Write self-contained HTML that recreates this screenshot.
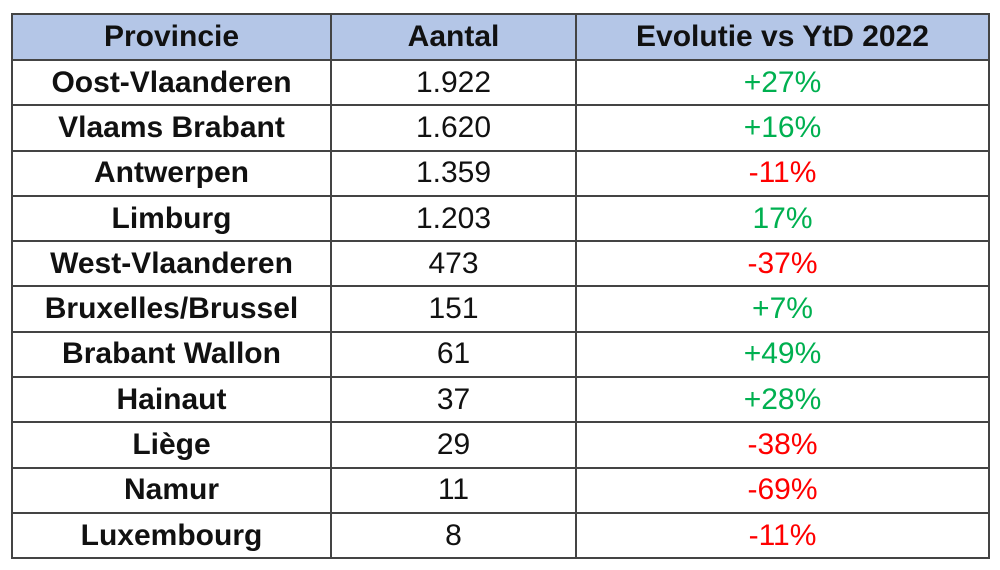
<!DOCTYPE html>
<html><head><meta charset="utf-8"><style>
body{margin:0;width:1000px;height:570px;background:#fff;overflow:hidden;font-family:"Liberation Sans",Arial,sans-serif}
table{position:absolute;left:11px;top:13px;border-collapse:collapse;table-layout:fixed}
td{border:2px solid #444;height:43.3px;padding:0;text-align:center;font-size:30px;color:#111;line-height:1}
tr.h td{background:#b4c6e7;font-weight:bold;height:44px}
td.p{font-weight:bold}
.g{color:#00b050}.r{color:#ff0000}
</style></head><body>
<table>
<colgroup><col style="width:319px"><col style="width:245px"><col style="width:413px"></colgroup>
<tr class="h"><td>Provincie</td><td>Aantal</td><td>Evolutie vs YtD 2022</td></tr>
<tr><td class="p">Oost-Vlaanderen</td><td>1.922</td><td class="g">+27%</td></tr>
<tr><td class="p">Vlaams Brabant</td><td>1.620</td><td class="g">+16%</td></tr>
<tr><td class="p">Antwerpen</td><td>1.359</td><td class="r">-11%</td></tr>
<tr><td class="p">Limburg</td><td>1.203</td><td class="g">17%</td></tr>
<tr><td class="p">West-Vlaanderen</td><td>473</td><td class="r">-37%</td></tr>
<tr><td class="p">Bruxelles/Brussel</td><td>151</td><td class="g">+7%</td></tr>
<tr><td class="p">Brabant Wallon</td><td>61</td><td class="g">+49%</td></tr>
<tr><td class="p">Hainaut</td><td>37</td><td class="g">+28%</td></tr>
<tr><td class="p">Liège</td><td>29</td><td class="r">-38%</td></tr>
<tr><td class="p">Namur</td><td>11</td><td class="r">-69%</td></tr>
<tr><td class="p">Luxembourg</td><td>8</td><td class="r">-11%</td></tr>
</table>
</body></html>
